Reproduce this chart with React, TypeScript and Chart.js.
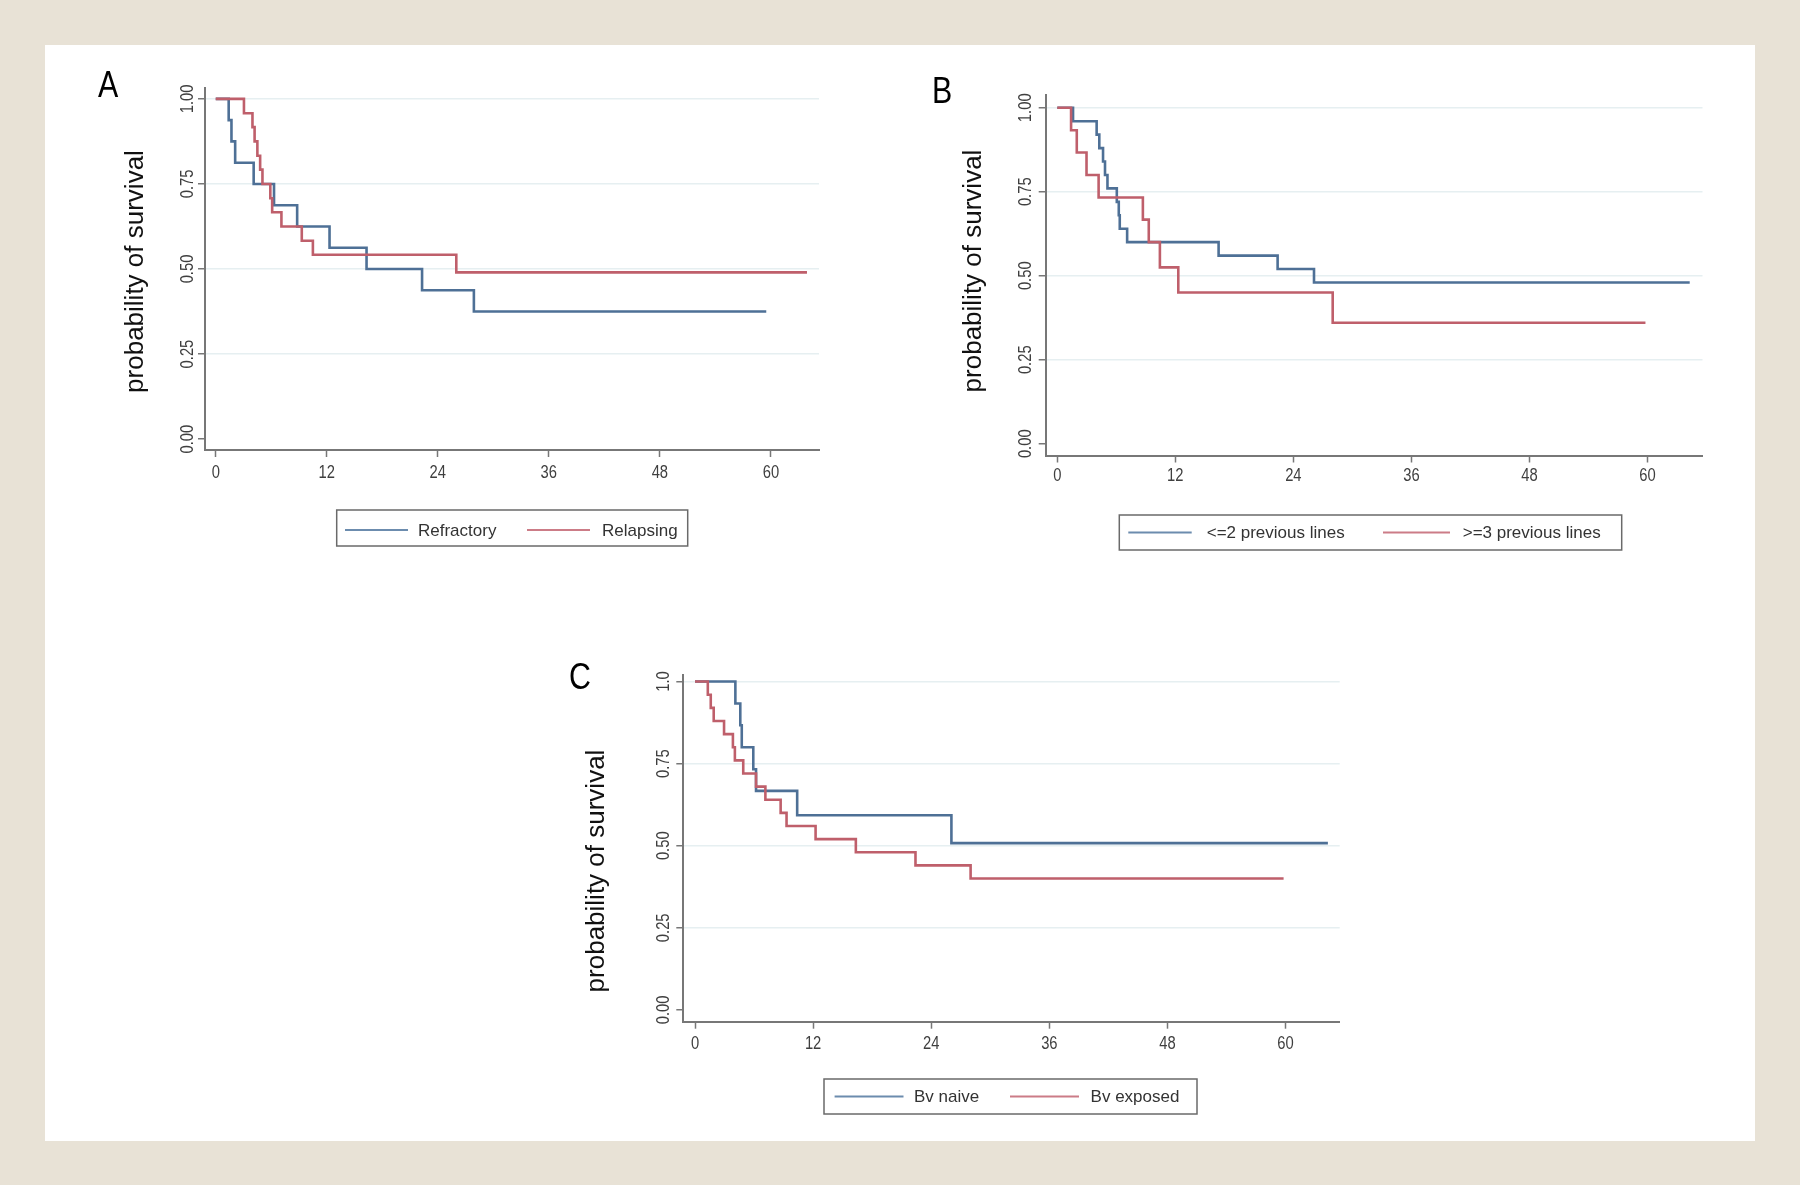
import React, { useEffect, useRef } from 'react';
import { Chart, registerables } from 'chart.js';

Chart.register(...registerables);

// ---------- data ----------
const X_TICKS = [0, 12, 24, 36, 48, 60];
const X_TICK_LABELS = ['0', '12', '24', '36', '48', '60'];
const Y_TICKS = [0, 0.25, 0.5, 0.75, 1];
const Y_TICK_LABELS_AB = ['0.00', '0.25', '0.50', '0.75', '1.00'];
const Y_TICK_LABELS_C = ['0.00', '0.25', '0.50', '0.75', '1.0'];
const Y_TITLE = 'probability of survival';

// Panel A
const A_REFRACTORY_TIME = [0, 1.4, 1.7, 2.1, 4.1, 6.3, 8.8, 12.3, 16.3, 22.3, 27.9, 59.5];
const A_REFRACTORY_SURV = [1, 0.9375, 0.875, 0.8125, 0.75, 0.6875, 0.625, 0.5625, 0.5, 0.4375, 0.375, 0.375];
const A_RELAPSING_TIME = [0, 3.05, 3.97, 4.2, 4.5, 4.8, 5.05, 5.9, 6.1, 7.1, 9.3, 10.5, 26.0, 63.9];
const A_RELAPSING_SURV = [1, 0.958, 0.917, 0.875, 0.833, 0.792, 0.75, 0.708, 0.667, 0.625, 0.583, 0.542, 0.49, 0.49];

// Panel B
const B_LE2_TIME = [0, 1.6, 4.0, 4.27, 4.65, 4.85, 5.1, 6.05, 6.25, 6.35, 7.1, 16.4, 22.4, 26.1, 64.3];
const B_LE2_SURV = [1, 0.96, 0.92, 0.88, 0.84, 0.8, 0.76, 0.72, 0.68, 0.64, 0.6, 0.56, 0.52, 0.48, 0.48];
const B_GE3_TIME = [0, 1.4, 1.98, 2.97, 4.2, 8.7, 9.3, 10.43, 12.3, 28.0, 59.8];
const B_GE3_SURV = [1, 0.933, 0.867, 0.8, 0.733, 0.667, 0.6, 0.525, 0.45, 0.36, 0.36];

// Panel C
const C_NAIVE_TIME = [0, 4.1, 4.6, 4.75, 5.92, 6.2, 10.38, 26.05, 64.3];
const C_NAIVE_SURV = [1, 0.933, 0.867, 0.8, 0.733, 0.667, 0.593, 0.508, 0.508];
const C_EXPOSED_TIME = [0, 1.3, 1.6, 1.9, 2.95, 3.85, 4.05, 4.9, 6.2, 7.15, 8.7, 9.3, 12.25, 16.34, 22.4, 28.0, 59.8];
const C_EXPOSED_SURV = [1, 0.96, 0.92, 0.88, 0.84, 0.8, 0.76, 0.72, 0.68, 0.64, 0.6, 0.56, 0.52, 0.48, 0.44, 0.4, 0.4];

// ---------- styles ----------
const BEIGE = '#e8e2d6';
const BLUE = '#4e7096';
const RED = '#bf5f6b';
const BLUE_LEG = '#6c8cae';
const RED_LEG = '#cc7c87';
const GRID = '#e6eff1';
const AXIS = '#777777';
const TICK_TEXT = '#3f3f3f';

function narrowAvailable(): boolean {
  try {
    const c = document.createElement('canvas').getContext('2d');
    if (!c) return false;
    const s = '0123456789abcdefABCDEF';
    c.font = '40px monospace';
    const a = c.measureText(s).width;
    c.font = '40px "Liberation Sans Narrow", monospace';
    const b = c.measureText(s).width;
    return Math.abs(a - b) > 0.5;
  } catch (e) {
    return false;
  }
}

type Series = { label: string; t: number[]; s: number[]; color: string; legColor: string };
type Panel = {
  letter: string;
  left: number; top: number; width: number; height: number;
  padding: { left: number; top: number; right: number; bottom: number };
  xMin: number; xMax: number; yMin: number; yMax: number;
  yLabels: string[];
  yLabelOffset: number;
  xLabelOffset: number;
  titleX: number; titleY: number;
  letterX: number; letterY: number;
  legendBox: [number, number, number, number];
  legendY: number;
  legendItems: { x1: number; x2: number; tx: number }[];
  series: Series[];
};

const PANELS: Panel[] = [
  {
    letter: 'A',
    left: 60, top: 55, width: 790, height: 510,
    padding: { left: 145, top: 33, right: 31, bottom: 115 },
    xMin: -1.16, xMax: 65.2, yMin: -0.032, yMax: 1.032,
    yLabels: Y_TICK_LABELS_AB,
    yLabelOffset: 17, xLabelOffset: 23,
    titleX: 75.5, titleY: 216.5,
    letterX: 38, letterY: 42,
    legendBox: [276.7, 455, 351, 36],
    legendY: 475,
    legendItems: [
      { x1: 285, x2: 348, tx: 358 },
      { x1: 467, x2: 530, tx: 542 },
    ],
    series: [
      { label: 'Refractory', t: A_REFRACTORY_TIME, s: A_REFRACTORY_SURV, color: BLUE, legColor: BLUE_LEG },
      { label: 'Relapsing', t: A_RELAPSING_TIME, s: A_RELAPSING_SURV, color: RED, legColor: RED_LEG },
    ],
  },
  {
    letter: 'B',
    left: 900, top: 60, width: 830, height: 510,
    padding: { left: 145.7, top: 35, right: 27.5, bottom: 114.5 },
    xMin: -1.18, xMax: 65.6, yMin: -0.035, yMax: 1.038,
    yLabels: Y_TICK_LABELS_AB,
    yLabelOffset: 20, xLabelOffset: 21,
    titleX: 73.5, titleY: 211,
    letterX: 32, letterY: 43,
    legendBox: [219.3, 455, 502.4, 35],
    legendY: 472.5,
    legendItems: [
      { x1: 228.3, x2: 291.7, tx: 306.7 },
      { x1: 483, x2: 550, tx: 562.7 },
    ],
    series: [
      { label: '<=2 previous lines', t: B_LE2_TIME, s: B_LE2_SURV, color: BLUE, legColor: BLUE_LEG },
      { label: '>=3 previous lines', t: B_GE3_TIME, s: B_GE3_SURV, color: RED, legColor: RED_LEG },
    ],
  },
  {
    letter: 'C',
    left: 540, top: 640, width: 830, height: 500,
    padding: { left: 143.3, top: 35, right: 30.3, bottom: 118.3 },
    xMin: -1.19, xMax: 65.5, yMin: -0.036, yMax: 1.02,
    yLabels: Y_TICK_LABELS_C,
    yLabelOffset: 19, xLabelOffset: 22,
    titleX: 57, titleY: 231,
    letterX: 29, letterY: 49,
    legendBox: [284, 439, 373, 35],
    legendY: 456.5,
    legendItems: [
      { x1: 294.6, x2: 363.5, tx: 374 },
      { x1: 470, x2: 539, tx: 550.6 },
    ],
    series: [
      { label: 'Bv naive', t: C_NAIVE_TIME, s: C_NAIVE_SURV, color: BLUE, legColor: BLUE_LEG },
      { label: 'Bv exposed', t: C_EXPOSED_TIME, s: C_EXPOSED_SURV, color: RED, legColor: RED_LEG },
    ],
  },
];

function makeChart(canvas: HTMLCanvasElement, p: Panel, narrow: boolean) {
  const tickFont = narrow ? '18px "Liberation Sans Narrow"' : '18px "Liberation Sans", Arial, sans-serif';
  const letterFont = narrow ? '37px "Liberation Sans Narrow"' : '37px "Liberation Sans", Arial, sans-serif';
  const sx = narrow ? 1 : 0.82;

  const decor = {
    id: 'decor' + p.letter,
    afterDraw(chart: any) {
      const ctx: CanvasRenderingContext2D = chart.ctx;
      const xs = chart.scales.x;
      const ys = chart.scales.y;
      ctx.save();
      // y tick labels (vertical)
      ctx.fillStyle = TICK_TEXT;
      ctx.font = tickFont;
      ctx.textAlign = 'center';
      ctx.textBaseline = 'middle';
      Y_TICKS.forEach((v, i) => {
        const py = ys.getPixelForValue(v);
        ctx.save();
        ctx.translate(xs.left - p.yLabelOffset, py);
        ctx.rotate(-Math.PI / 2);
        ctx.scale(sx, 1);
        ctx.fillText(p.yLabels[i], 0, 0);
        ctx.restore();
      });
      // x tick labels
      X_TICKS.forEach((v, i) => {
        const px = xs.getPixelForValue(v);
        ctx.save();
        ctx.translate(px, xs.top + p.xLabelOffset);
        ctx.scale(sx, 1);
        ctx.fillText(X_TICK_LABELS[i], 0, 0);
        ctx.restore();
      });
      // y axis title
      ctx.fillStyle = '#111111';
      ctx.font = '26px "Liberation Sans", Arial, sans-serif';
      ctx.save();
      ctx.translate(p.titleX, p.titleY);
      ctx.rotate(-Math.PI / 2);
      ctx.fillText(Y_TITLE, 0, 0);
      ctx.restore();
      // panel letter
      ctx.fillStyle = '#000000';
      ctx.font = letterFont;
      ctx.textAlign = 'left';
      ctx.textBaseline = 'alphabetic';
      ctx.save();
      ctx.translate(p.letterX, p.letterY);
      ctx.scale(sx, 1);
      ctx.fillText(p.letter, 0, 0);
      ctx.restore();
      // legend
      const [bx, by, bw, bh] = p.legendBox;
      ctx.fillStyle = '#ffffff';
      ctx.fillRect(bx, by, bw, bh);
      ctx.strokeStyle = '#6a6a6a';
      ctx.lineWidth = 1.5;
      ctx.strokeRect(bx, by, bw, bh);
      ctx.font = '17px "Liberation Sans", Arial, sans-serif';
      ctx.textBaseline = 'middle';
      ctx.textAlign = 'left';
      p.legendItems.forEach((it, i) => {
        const s = p.series[i];
        ctx.strokeStyle = s.legColor;
        ctx.lineWidth = 2;
        ctx.beginPath();
        ctx.moveTo(it.x1, p.legendY);
        ctx.lineTo(it.x2, p.legendY);
        ctx.stroke();
        ctx.fillStyle = '#333333';
        ctx.fillText(s.label, it.tx, p.legendY + 1);
      });
      ctx.restore();
    },
  };

  return new Chart(canvas, {
    type: 'line',
    data: {
      datasets: p.series.map((s, i) => ({
        label: s.label,
        data: s.t.map((t, j) => ({ x: t, y: s.s[j] })),
        borderColor: s.color,
        backgroundColor: s.color,
        borderWidth: 2.6,
        pointRadius: 0,
        pointHoverRadius: 0,
        stepped: 'before',
        fill: false,
        tension: 0,
        order: 2 - i,
      })),
    },
    options: {
      responsive: false,
      animation: false,
      devicePixelRatio: 1,
      events: [],
      layout: { padding: p.padding },
      plugins: { legend: { display: false }, tooltip: { enabled: false } },
      scales: {
        x: {
          type: 'linear',
          min: p.xMin,
          max: p.xMax,
          afterFit: (s: any) => { s.height = 0; },
          afterBuildTicks: (s: any) => { s.ticks = X_TICKS.map((v) => ({ value: v })); },
          ticks: { display: false },
          grid: { drawOnChartArea: false, drawTicks: true, tickLength: 7, tickColor: AXIS, tickWidth: 1.5 },
          border: { display: true, color: AXIS, width: 2 },
        },
        y: {
          type: 'linear',
          min: p.yMin,
          max: p.yMax,
          afterFit: (s: any) => { s.width = 0; },
          afterBuildTicks: (s: any) => { s.ticks = Y_TICKS.map((v) => ({ value: v })); },
          ticks: { display: false },
          grid: {
            color: (c: any) => (c.tick && c.tick.value === 0 ? 'rgba(0,0,0,0)' : GRID),
            lineWidth: 1.5,
            drawTicks: true,
            tickLength: 7,
            tickColor: AXIS,
            tickWidth: 1.5,
          },
          border: { display: true, color: AXIS, width: 2 },
        },
      },
    } as any,
    plugins: [decor],
  } as any);
}

export default function App() {
  const refs = [useRef<HTMLCanvasElement>(null), useRef<HTMLCanvasElement>(null), useRef<HTMLCanvasElement>(null)];

  useEffect(() => {
    document.body.style.margin = '0';
    document.body.style.overflow = 'hidden';
    const narrow = narrowAvailable();
    const charts = PANELS.map((p, i) => makeChart(refs[i].current as HTMLCanvasElement, p, narrow));
    return () => charts.forEach((c) => c.destroy());
  }, []);

  return (
    <div style={{ position: 'absolute', left: 0, top: 0, width: 1800, height: 1185, background: BEIGE, overflow: 'hidden' }}>
      <div style={{ position: 'absolute', left: 45, top: 45, width: 1710, height: 1096, background: '#ffffff' }} />
      {PANELS.map((p, i) => (
        <canvas
          key={p.letter}
          ref={refs[i]}
          width={p.width}
          height={p.height}
          style={{ position: 'absolute', left: p.left, top: p.top, width: p.width, height: p.height }}
        />
      ))}
    </div>
  );
}
